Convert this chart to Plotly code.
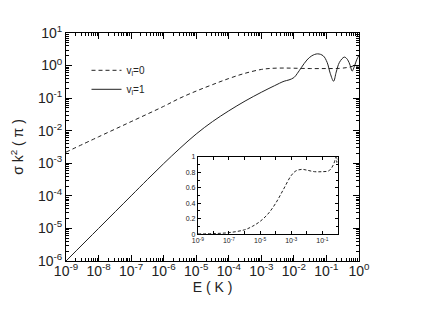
import plotly.graph_objects as go

# (log10 of E in K)
logE_l0 = [-9, -8, -7, -6, -5.5, -5, -4.5, -4, -3.5, -3, -2.7, -2.3, -2, -1.5, -1,
           -0.6, -0.4, -0.25, -0.12, -0.07, -0.03, 0]
sigma_l0 = [0.0022, 0.0065, 0.019, 0.056, 0.10, 0.165, 0.26, 0.40, 0.58, 0.76, 0.82,
            0.84, 0.83, 0.81, 0.81, 0.82, 0.86, 0.92, 1.0, 0.93, 0.97, 0.98]

logE_l1 = [-9, -8, -7, -6.5, -6, -5.5, -5, -4.5, -4, -3.5, -3, -2.6, -2.3, -2.15, -2.0,
           -1.9, -1.77, -1.6, -1.45, -1.27, -1.1, -0.98, -0.88, -0.78, -0.7, -0.6,
           -0.45, -0.35, -0.27, -0.21, -0.14, -0.07, 0]
logsig_l1 = [-6, -5, -4, -3.5, -3.01, -2.54, -2.1, -1.72, -1.39, -1.09, -0.82, -0.62,
             -0.48, -0.44, -0.37, -0.25, -0.06, 0.17, 0.3, 0.36, 0.3, 0.1, -0.25, -0.48,
             -0.2, 0.1, 0.26, 0.18, 0.0, -0.17, -0.02, 0.18, 0.32]

E_l0 = [10 ** v for v in logE_l0]
E_l1 = [10 ** v for v in logE_l1]
sigma_l1 = [10 ** v for v in logsig_l1]

x_exps = list(range(-9, 1))
y_exps = list(range(-6, 2))
inset_exps = list(range(-9, 1))
inset_ylabels = ["0", "0.2", "0.4", "0.6", "0.8", "1"]
inset_yvals = [0, 0.2, 0.4, 0.6, 0.8, 1]


def pow_label(k):
    return "10<sup>%d</sup>" % k


def minor_vals(exps):
    return [m * 10 ** k for k in exps[:-1] for m in range(2, 10)]


FONT = "Liberation Sans, Arial, sans-serif"
INK = "#222"

fig = go.Figure()
fig.add_trace(go.Scatter(x=E_l0, y=sigma_l0, mode="lines", name="v<sub>l</sub>=0",
                         line=dict(color=INK, width=1, dash="4px,3px", shape="spline")))
fig.add_trace(go.Scatter(x=E_l1, y=sigma_l1, mode="lines", name="v<sub>l</sub>=1",
                         line=dict(color=INK, width=1, shape="spline")))
# inset: same v_l=0 curve on a linear y scale
fig.add_trace(go.Scatter(x=E_l0, y=sigma_l0, mode="lines", showlegend=False,
                         xaxis="x2", yaxis="y2",
                         line=dict(color=INK, width=1, dash="3px,2px", shape="spline")))

axis_common = dict(showline=True, linecolor="black", linewidth=1, mirror="ticks",
                   ticks="inside", ticklen=6, tickwidth=1.3, tickcolor="black",
                   showgrid=False, zeroline=False, automargin=False)
inset_common = dict(tickfont=dict(size=7), showline=True, linecolor="black", linewidth=1,
                    mirror="ticks", ticks="inside", ticklen=3, tickwidth=1.2,
                    tickcolor="black", showgrid=False, zeroline=False, automargin=False)

# the page body adds an 8px offset, so margins are trimmed on the left/top
fig.update_layout(
    width=423, height=327,
    margin=dict(l=58, r=72, t=25, b=74),
    paper_bgcolor="white", plot_bgcolor="white",
    font=dict(family=FONT, color=INK, size=13),
    xaxis=dict(type="log", range=[-9, 0],
               tickvals=[10 ** k for k in x_exps], ticktext=[pow_label(k) for k in x_exps],
               tickangle=0, tickfont=dict(size=14), ticklabelstandoff=-3,
               title=dict(text="E ( K )", font=dict(size=14), standoff=0),
               minor=dict(ticks="inside", ticklen=3, tickwidth=1.2, tickcolor="black",
                          tickmode="array", tickvals=minor_vals(x_exps)),
               **axis_common),
    yaxis=dict(type="log", range=[-6, 1],
               tickvals=[10 ** k for k in y_exps], ticktext=[pow_label(k) for k in y_exps],
               tickfont=dict(size=14),
               title=dict(text="σ k<sup>2</sup> ( π )", font=dict(size=14), standoff=12),
               minor=dict(ticks="inside", ticklen=3, tickwidth=1.2, tickcolor="black",
                          tickmode="array", tickvals=minor_vals(y_exps)),
               **axis_common),
    xaxis2=dict(type="log", range=[-9, 0], domain=[0.45, 0.928], anchor="y2",
                tickvals=[10 ** k for k in inset_exps],
                ticktext=[pow_label(k) if k % 2 else "" for k in inset_exps],
                tickangle=0, **inset_common),
    yaxis2=dict(range=[0, 1], domain=[0.118, 0.456], anchor="x2",
                tickvals=inset_yvals, ticktext=inset_ylabels,
                minor=dict(ticks="inside", ticklen=2, tickwidth=1.2, tickcolor="black",
                           dtick=0.1),
                **inset_common),
    legend=dict(x=0.07, y=0.9, xanchor="left", yanchor="top",
                bgcolor="rgba(0,0,0,0)", font=dict(size=10), itemwidth=30,
                tracegroupgap=0),
)

fig.write_html("out.html")
